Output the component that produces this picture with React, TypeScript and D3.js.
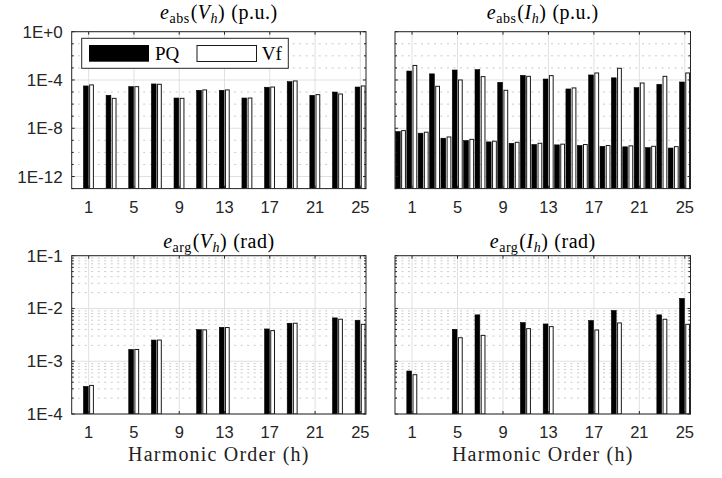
import React from 'react';
import * as d3 from 'd3';

// harmonic orders
const oddH = [1, 3, 5, 7, 9, 11, 13, 15, 17, 19, 21, 23, 25];
const evenH = [0, 2, 4, 6, 8, 10, 12, 14, 16, 18, 20, 22, 24];
const argH = [1, 5, 7, 11, 13, 17, 19, 23, 25];

// e_abs(V_h), odd harmonics
const absV_PQ = [3.2e-5, 5.4e-6, 2.8e-5, 4.7e-5, 3.2e-6, 1.4e-5, 1.4e-5, 3.2e-6, 2.5e-5, 7.2e-5, 5.4e-6, 1.0e-5, 2.6e-5];
const absV_Vf = [3.9e-5, 3.0e-6, 2.8e-5, 4.4e-5, 3.0e-6, 1.5e-5, 1.5e-5, 3.2e-6, 2.6e-5, 8.3e-5, 6.1e-6, 6.9e-6, 3.2e-5];

// e_abs(I_h), odd and even harmonics
const absI_PQ_odd = [5.5e-4, 3.2e-4, 6.7e-4, 7.2e-4, 6.4e-5, 2.4e-4, 1.2e-4, 1.8e-5, 2.6e-4, 1.5e-4, 2.3e-5, 4.4e-5, 6.8e-5];
const absI_Vf_odd = [1.6e-3, 3.0e-5, 1.0e-4, 1.9e-4, 1.4e-5, 2.0e-4, 2.3e-4, 2.2e-5, 3.8e-4, 9.3e-4, 5.6e-5, 2.0e-4, 3.8e-4];
const absI_PQ_even = [5.3e-9, 3.9e-9, 1.5e-9, 9.6e-10, 7.4e-10, 5.7e-10, 4.5e-10, 4.2e-10, 3.7e-10, 3.2e-10, 2.9e-10, 2.5e-10, 2.3e-10];
const absI_Vf_even = [6.4e-9, 4.7e-9, 1.9e-9, 1.2e-9, 8.4e-10, 6.9e-10, 5.7e-10, 4.8e-10, 4.5e-10, 3.7e-10, 3.5e-10, 3.2e-10, 3.0e-10];

// e_arg, non-triplen harmonics
const argV_PQ = [3.33e-4, 1.67e-3, 2.52e-3, 3.97e-3, 4.40e-3, 4.09e-3, 5.25e-3, 6.63e-3, 5.98e-3];
const argV_Vf = [3.48e-4, 1.67e-3, 2.52e-3, 3.93e-3, 4.35e-3, 3.80e-3, 5.25e-3, 6.25e-3, 5.00e-3];
const argI_PQ = [6.53e-4, 4.03e-3, 7.57e-3, 5.40e-3, 5.09e-3, 5.90e-3, 9.16e-3, 7.57e-3, 1.55e-2];
const argI_Vf = [5.56e-4, 2.79e-3, 3.09e-3, 4.15e-3, 4.53e-3, 3.91e-3, 5.32e-3, 6.25e-3, 5.00e-3];

const xTicks = [1, 5, 9, 13, 17, 21, 25];
const absTicks = [1e0, 1e-4, 1e-8, 1e-12];
const absTickLabels = ['1E+0', '1E-4', '1E-8', '1E-12'];
const argTicks = [1e-1, 1e-2, 1e-3, 1e-4];
const argTickLabels = ['1E-1', '1E-2', '1E-3', '1E-4'];

const W = 722;
const H = 478;
const cols = [{ x0: 71.7, x1: 366 }, { x0: 395, x1: 690.5 }];
const rows = [{ y0: 31.7, y1: 188.6 }, { y0: 255.7, y1: 414 }];
const axisColor = '#262626';
const serif = '"Liberation Serif", "Times New Roman", serif';
const sans = '"Liberation Sans", Arial, sans-serif';

type Series = { h: number[]; pq: number[]; vf: number[] };

type PanelProps = {
  id: string;
  col: number;
  row: number;
  domain: [number, number];
  ticks: number[];
  tickLabels: string[] | null;
  minor: number[];
  series: Series[];
  title: React.ReactNode;
  xlabel?: boolean;
  legend?: boolean;
};

const Panel = ({ id, col, row, domain, ticks, tickLabels, minor, series, title, xlabel, legend }: PanelProps) => {
  const { x0, x1 } = cols[col];
  const { y0, y1 } = rows[row];
  const x = d3.scaleLinear().domain([-0.5, 25.5]).range([x0, x1]);
  const y = d3.scaleLog().domain(domain).range([y1, y0]);
  const off = 0.25;
  const bw = x(0.42) - x(0);
  const cx = (x0 + x1) / 2;

  return (
    <g>
      <defs>
        <clipPath id={id}>
          <rect x={x0} y={y0} width={x1 - x0} height={y1 - y0} />
        </clipPath>
      </defs>
      {/* minor grid */}
      {minor.map((v, i) => (
        <line key={'mg' + i} x1={x0} x2={x1} y1={y(v)} y2={y(v)} stroke="#cacaca" strokeWidth={1} strokeDasharray="2 4.5" />
      ))}
      {/* major grid */}
      {ticks.map((v, i) => (
        <line key={'yg' + i} x1={x0} x2={x1} y1={y(v)} y2={y(v)} stroke="#e0e0e0" strokeWidth={1} />
      ))}
      {xTicks.map((t) => (
        <line key={'xg' + t} x1={x(t)} x2={x(t)} y1={y0} y2={y1} stroke="#e0e0e0" strokeWidth={1} />
      ))}
      {/* bars */}
      <g clipPath={`url(#${id})`}>
        {series.map((s, si) => (
          <g key={'s' + si}>
            {s.h.map((h, i) => (
              <rect key={'pq' + h} x={x(h - off) - bw / 2} y={y(s.pq[i])} width={bw} height={y1 - y(s.pq[i])}
                fill="#000" stroke="#000" strokeWidth={0.6} />
            ))}
            {s.h.map((h, i) => (
              <rect key={'vf' + h} x={x(h + off) - bw / 2 + 0.5} y={y(s.vf[i])} width={bw - 1} height={y1 - y(s.vf[i])}
                fill="#fff" stroke="#1a1a1a" strokeWidth={1} />
            ))}
          </g>
        ))}
      </g>
      {/* box */}
      <rect x={x0} y={y0} width={x1 - x0} height={y1 - y0} fill="none" stroke={axisColor} strokeWidth={1} />
      {/* ticks */}
      {xTicks.map((t) => (
        <g key={'xt' + t} stroke={axisColor}>
          <line x1={x(t)} x2={x(t)} y1={y1} y2={y1 - 3} />
          <line x1={x(t)} x2={x(t)} y1={y0} y2={y0 + 3} />
        </g>
      ))}
      {ticks.map((v, i) => (
        <g key={'yt' + i} stroke={axisColor}>
          <line x1={x0} x2={x0 + 3} y1={y(v)} y2={y(v)} />
          <line x1={x1} x2={x1 - 3} y1={y(v)} y2={y(v)} />
        </g>
      ))}
      {minor.map((v, i) => (
        <g key={'mt' + i} stroke={axisColor}>
          <line x1={x0} x2={x0 + 2} y1={y(v)} y2={y(v)} />
          <line x1={x1} x2={x1 - 2} y1={y(v)} y2={y(v)} />
        </g>
      ))}
      {/* tick labels */}
      {xTicks.map((t) => (
        <text key={'xl' + t} x={x(t)} y={y1 + 24} textAnchor="middle" fontFamily={sans} fontSize={16.5} fill={axisColor}>
          {t}
        </text>
      ))}
      {tickLabels &&
        ticks.map((v, i) => (
          <text key={'yl' + i} x={x0 - 9} y={y(v) + 6} textAnchor="end" fontFamily={sans} fontSize={17} fill={axisColor}>
            {tickLabels[i]}
          </text>
        ))}
      {/* title */}
      <text x={cx} y={row === 0 ? 18.5 : 247.5} textAnchor="middle" fontFamily={serif} fontSize={20} letterSpacing={0.5} fill="#000">
        {title}
      </text>
      {xlabel && (
        <text x={cx} y={461} textAnchor="middle" fontFamily={serif} fontSize={20} letterSpacing={1.2} fill="#222">
          Harmonic Order (h)
        </text>
      )}
      {legend && (
        <g>
          <rect x={81.7} y={38.3} width={206.6} height={30} fill="#fff" stroke={axisColor} strokeWidth={1} />
          <rect x={89} y={45} width={60} height={16.7} fill="#000" />
          <text x={155} y={59.5} fontFamily={serif} fontSize={19} fill="#000">PQ</text>
          <rect x={197} y={45.5} width={59.5} height={16} fill="#fff" stroke="#1a1a1a" strokeWidth={1} />
          <text x={261.7} y={59.5} fontFamily={serif} fontSize={19} fill="#000">Vf</text>
        </g>
      )}
    </g>
  );
};

const Title = ({ sub, arg, unit }: { sub: string; arg: string; unit: string }) => (
  <>
    <tspan fontStyle="italic">e</tspan>
    <tspan fontSize={14} dy={4.5}>{sub}</tspan>
    <tspan dy={-4.5} dx={1}>(</tspan>
    <tspan fontStyle="italic">{arg}</tspan>
    <tspan fontSize={14} fontStyle="italic" dy={4}>h</tspan>
    <tspan dy={-4}>)</tspan>
    <tspan dx={6}>{`(${unit})`}</tspan>
  </>
);

const absMinor = d3.range(-12, 0).filter((k) => k % 4 !== 0).map((k) => Math.pow(10, k)).concat([1e-13]);
const argMinor = d3.range(-4, -1).flatMap((k) => d3.range(2, 10).map((m) => m * Math.pow(10, k)));

export default function App() {
  return (
    <svg width={W} height={H} style={{ position: 'fixed', left: 0, top: 0, background: '#fff' }}>
      <rect width={W} height={H} fill="#fff" />
      <Panel id="c1" col={0} row={0} domain={[1e-13, 1]} ticks={absTicks} tickLabels={absTickLabels} minor={absMinor}
        series={[{ h: oddH, pq: absV_PQ, vf: absV_Vf }]}
        title={<Title sub="abs" arg="V" unit="p.u." />} legend />
      <Panel id="c2" col={1} row={0} domain={[1e-13, 1]} ticks={absTicks} tickLabels={null} minor={absMinor}
        series={[{ h: oddH, pq: absI_PQ_odd, vf: absI_Vf_odd }, { h: evenH, pq: absI_PQ_even, vf: absI_Vf_even }]}
        title={<Title sub="abs" arg="I" unit="p.u." />} />
      <Panel id="c3" col={0} row={1} domain={[1e-4, 1e-1]} ticks={argTicks} tickLabels={argTickLabels} minor={argMinor}
        series={[{ h: argH, pq: argV_PQ, vf: argV_Vf }]}
        title={<Title sub="arg" arg="V" unit="rad" />} xlabel />
      <Panel id="c4" col={1} row={1} domain={[1e-4, 1e-1]} ticks={argTicks} tickLabels={null} minor={argMinor}
        series={[{ h: argH, pq: argI_PQ, vf: argI_Vf }]}
        title={<Title sub="arg" arg="I" unit="rad" />} xlabel />
    </svg>
  );
}
